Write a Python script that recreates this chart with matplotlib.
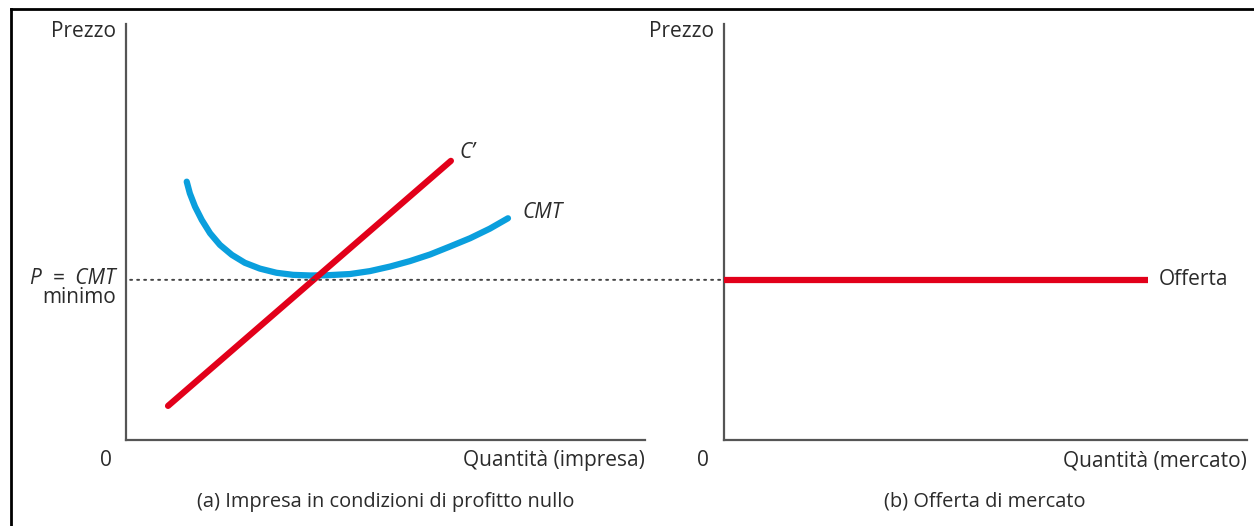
import matplotlib
matplotlib.use("Agg")
import matplotlib.pyplot as plt
from matplotlib.patches import ConnectionPatch
from matplotlib.lines import Line2D

plt.rcParams['font.family'] = ['Open Sans', 'DejaVu Sans']

# ---- data ----
p_min = 3.85
mc_x = [0.81, 6.26]
mc_y = [0.82, 6.71]
atc_x = [1.17, 1.23, 1.33, 1.46, 1.62, 1.81, 2.04, 2.29, 2.58, 2.90, 3.22, 3.55,
         3.87, 4.32, 4.70, 5.09, 5.47, 5.86, 6.24, 6.63, 7.01, 7.36]
atc_y = [6.21, 5.93, 5.61, 5.29, 4.97, 4.69, 4.45, 4.26, 4.12, 4.02, 3.97, 3.955,
         3.96, 3.99, 4.06, 4.17, 4.30, 4.46, 4.65, 4.85, 5.08, 5.33]
supply_x = [0.0, 8.1]
supply_y = [p_min, p_min]

RED = '#E2001A'
BLUE = '#0A9FDD'
AX = '#555555'
TXT = '#2b2b2b'

W, H = 1254, 526
fig = plt.figure(figsize=(W / 100, H / 100), dpi=100)

def fx(px):
    return px / W

def fy(py):
    return 1 - py / H

ax1 = fig.add_axes([fx(126), fy(440), fx(645) - fx(126), fy(24) - fy(440)])
ax2 = fig.add_axes([fx(724), fy(440), fx(1247) - fx(724), fy(24) - fy(440)])

for ax in (ax1, ax2):
    ax.set_xlim(0, 10)
    ax.set_ylim(0, 10)
    for s in ('top', 'right'):
        ax.spines[s].set_visible(False)
    for s in ('left', 'bottom'):
        ax.spines[s].set_color(AX)
        ax.spines[s].set_linewidth(1.6)
    ax.set_xticks([])
    ax.set_yticks([])
    ax.patch.set_alpha(0)

# curves
ax1.plot(atc_x, atc_y, color=BLUE, lw=4.5, solid_capstyle='round',
         solid_joinstyle='round', zorder=3)
ax1.plot(mc_x, mc_y, color=RED, lw=4.5, solid_capstyle='round', zorder=4)
ax2.plot(supply_x, supply_y, color=RED, lw=4.5, solid_capstyle='butt', zorder=3)

# dotted price line across panels
con = ConnectionPatch(xyA=(0.08, p_min), coordsA=ax1.transData,
                      xyB=(0.0, p_min), coordsB=ax2.transData,
                      linestyle=(0, (1, 2.6)), color='#444444', lw=1.4, zorder=1)
fig.add_artist(con)

fs = 15
cfs = 14.4
# labels left panel
ax1.text(mc_x[-1] + 0.17, mc_y[-1] + 0.2, 'C’', style='italic', fontsize=fs, color=TXT,
         ha='left', va='center')
ax1.text(atc_x[-1] + 0.28, atc_y[-1] + 0.15, 'CMT', style='italic', fontsize=fs, color=TXT,
         ha='left', va='center')
ax1.text(-0.2, p_min + 0.03, 'P  =  CMT', style='italic', fontsize=fs, color=TXT,
         ha='right', va='center')
ax1.text(-0.2, p_min - 0.43, 'minimo', fontsize=fs, color=TXT, ha='right', va='center')

for ax in (ax1, ax2):
    ax.text(-0.2, 9.83, 'Prezzo', fontsize=fs, color=TXT, ha='right', va='center')
    ax.text(-0.28, -0.5, '0', fontsize=fs, color=TXT, ha='right', va='center')

ax1.text(10, -0.5, 'Quantità (impresa)', fontsize=fs, color=TXT, ha='right', va='center')
ax2.text(10, -0.5, 'Quantità (mercato)', fontsize=fs, color=TXT, ha='right', va='center')
ax2.text(supply_x[-1] + 0.22, p_min + 0.02, 'Offerta', fontsize=fs, color=TXT,
         ha='left', va='center')

fig.text(fx(386), fy(502), '(a) Impresa in condizioni di profitto nullo', fontsize=cfs,
         color=TXT, ha='center', va='center')
fig.text(fx(985), fy(502), '(b) Offerta di mercato', fontsize=cfs,
         color=TXT, ha='center', va='center')

# outer frame (left and top edges visible)
fig.add_artist(Line2D([fx(11), fx(11)], [fy(9), 0], color='black', lw=2, transform=fig.transFigure))
fig.add_artist(Line2D([fx(11), 1], [fy(9), fy(9)], color='black', lw=2, transform=fig.transFigure))

fig.savefig('out.png', dpi=100, facecolor='white')
